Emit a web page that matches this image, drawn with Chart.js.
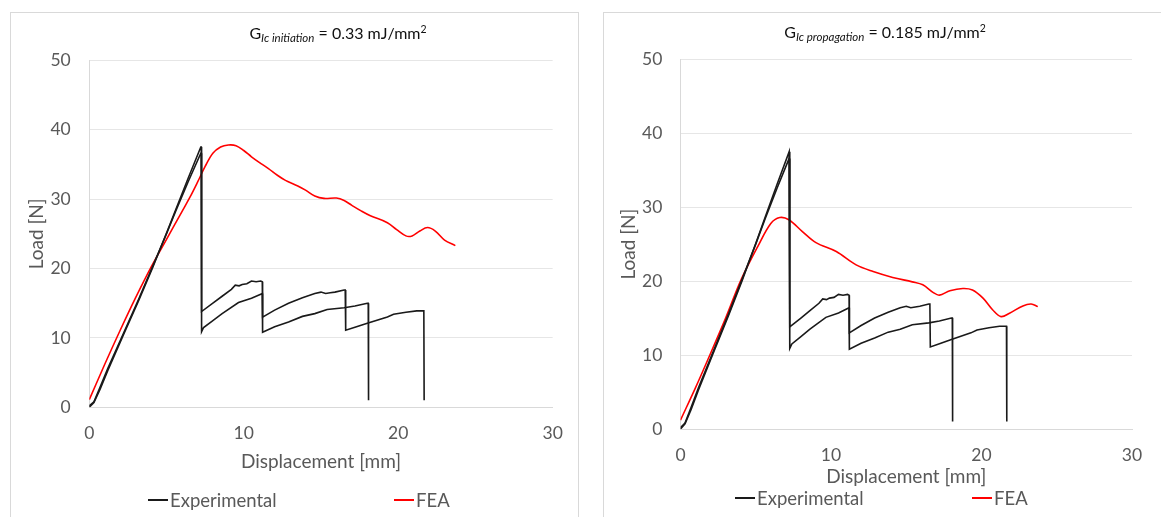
<!DOCTYPE html>
<html>
<head>
<meta charset="utf-8">
<script src="https://cdn.jsdelivr.net/npm/chart.js@4.4.0/dist/chart.umd.min.js"></script>
<style>
  body { margin:0; width:1161px; height:517px; overflow:hidden; background:#fff; font-family:Lato, sans-serif; color:#595959; position:relative; }
  .frame { position:absolute; top:12px; height:520px; border:1px solid #d9d9d9; box-sizing:border-box; }
  canvas { position:absolute; }
  .title { position:absolute; font-size:16px; color:#111; white-space:nowrap; transform:translate(-50%,-50%); }
  .title sub { font-size:11.5px; font-style:italic; vertical-align:-3px; }
  .title sup { font-size:10.5px; vertical-align:6px; }
  .leg { position:absolute; font-size:18.5px; display:flex; align-items:center; transform:translateY(-50%); white-space:nowrap; }
  .leg i { display:inline-block; width:20px; height:2px; margin-right:2px; }
</style>
</head>
<body>
<div class="frame" style="left:10px;width:569px;"></div>
<div class="frame" style="left:603px;width:570px;"></div>

<canvas id="left" width="568" height="505" style="left:10px;top:12px;"></canvas>
<canvas id="right" width="558" height="505" style="left:603px;top:12px;"></canvas>

<div class="title" style="left:338px;top:33px;">G<sub>Ic initiation</sub> = 0.33 mJ/mm<sup>2</sup></div>
<div class="title" style="left:885px;top:32px;">G<sub>Ic propagation</sub> = 0.185 mJ/mm<sup>2</sup></div>

<div class="leg" style="left:148px;top:500px;"><i style="background:#1a1a1a"></i>Experimental</div>
<div class="leg" style="left:394px;top:500px;"><i style="background:#ff0000"></i>FEA</div>
<div class="leg" style="left:735px;top:498px;"><i style="background:#1a1a1a"></i>Experimental</div>
<div class="leg" style="left:972px;top:498px;"><i style="background:#ff0000"></i>FEA</div>

<script>
// experimental specimen 1 (displacement mm, load N)
const expAx = [0, 0.3, 0.7, 1.2, 2.2, 3.2, 4.1, 5.0, 5.6, 6.4, 7.22, 7.25, 7.27, 8.0, 8.6, 9.2, 9.45, 9.7, 9.9, 10.2, 10.5, 10.8, 11.1, 11.2, 11.22, 12.0, 12.9, 13.8, 14.6, 15.0, 15.3, 15.6, 15.9, 16.5, 16.57, 16.6, 17.3, 18.0, 19.3, 19.7, 20.5, 21.2, 21.66, 21.68];
const expAy = [0, 0.7, 2.6, 5.3, 10.4, 15.4, 20.1, 25.1, 28.5, 33.0, 37.5, 37.5, 13.8, 15.0, 16.0, 17.0, 17.6, 17.5, 17.7, 17.8, 18.2, 18.1, 18.2, 18.1, 13.0, 14.0, 15.0, 15.8, 16.4, 16.6, 16.4, 16.5, 16.6, 16.9, 16.9, 11.1, 11.6, 12.1, 13.0, 13.4, 13.7, 13.9, 13.9, 1.0];

// experimental specimen 2
const expBx = [0, 0.3, 0.7, 1.2, 2.2, 3.2, 4.1, 5.0, 5.6, 6.4, 7.22, 7.25, 7.27, 7.4, 8.0, 8.6, 9.66, 10.5, 11.1, 11.2, 11.22, 12.0, 12.9, 13.8, 14.6, 15.4, 16.5, 17.2, 18.0, 18.06, 18.08];
const expBy = [0.2, 0.8, 2.9, 5.6, 10.6, 15.6, 20.3, 25.0, 28.3, 32.5, 36.6, 36.6, 10.9, 11.5, 12.5, 13.5, 15.1, 15.7, 16.3, 16.4, 10.8, 11.6, 12.3, 13.1, 13.5, 14.1, 14.35, 14.6, 15.0, 15.0, 1.0];

// FEA, G_Ic initiation = 0.33
const feaInitX = [0, 1, 2, 3, 4, 5, 6, 6.5, 7, 7.5, 8, 8.5, 9, 9.5, 10, 10.5, 11, 11.6, 12.2, 12.7, 13.5, 14, 14.6, 15.2, 16, 16.5, 17, 17.6, 18.2, 19.3, 19.9, 20.5, 20.9, 21.4, 21.9, 22.4, 23.0, 23.7];
const feaInitY = [1.1, 6.2, 11.1, 15.8, 20.2, 24.2, 28.2, 30.2, 32.4, 34.7, 36.6, 37.5, 37.8, 37.7, 37.0, 36.1, 35.3, 34.4, 33.4, 32.7, 31.9, 31.3, 30.45, 30.1, 30.15, 29.8, 29.1, 28.3, 27.6, 26.6, 25.6, 24.7, 24.7, 25.4, 25.9, 25.4, 24.1, 23.3];

// FEA, G_Ic propagation = 0.185
const feaPropX = [0, 1, 1.8, 3, 4.03, 5.14, 6.0, 6.6, 7.2, 8.1, 9.0, 10.35, 11.67, 12.8, 14.1, 15.4, 16.1, 16.8, 17.2, 17.9, 18.76, 19.4, 20.1, 20.75, 21.3, 21.86, 22.75, 23.3, 23.74];
const feaPropY = [1.2, 5.6, 9.3, 15.0, 20.2, 24.7, 27.8, 28.6, 28.3, 26.7, 25.2, 24.0, 22.2, 21.3, 20.5, 19.9, 19.5, 18.45, 18.1, 18.7, 19.0, 18.8, 17.7, 16.1, 15.2, 15.65, 16.65, 16.9, 16.55];

const xTicks = [0, 10, 20, 30];
const yTicks = [0, 10, 20, 30, 40, 50];

Chart.defaults.font.family = 'Lato';
Chart.defaults.color = '#595959';

function pts(xs, ys) {
  return xs.map((x, i) => ({x: x, y: ys[i]}));
}

function makeChart(id, feaX, feaY, box) {
  const tickFont = {family: 'Lato', size: 17.5};
  const titleFont = {family: 'Lato', size: 19};
  new Chart(document.getElementById(id), {
    type: 'scatter',
    data: {
      datasets: [
        {label: 'Experimental', data: pts(expAx, expAy), showLine: true, borderColor: '#1a1a1a', borderWidth: 1.6, pointRadius: 0, tension: 0},
        {label: 'Experimental B', data: pts(expBx, expBy), showLine: true, borderColor: '#1a1a1a', borderWidth: 1.6, pointRadius: 0, tension: 0},
        {label: 'FEA', data: pts(feaX, feaY), showLine: true, borderColor: '#ff0000', borderWidth: 1.6, pointRadius: 0, tension: 0.35}
      ]
    },
    options: {
      responsive: false,
      animation: false,
      layout: {padding: {left: 0, top: box.top, right: box.right, bottom: box.bottom}},
      plugins: {legend: {display: false}, tooltip: {enabled: false}},
      scales: {
        x: {
          type: 'linear', min: 0, max: 30,
          afterBuildTicks: s => { s.ticks = xTicks.map(v => ({value: v})); },
          ticks: {font: tickFont, color: '#595959', padding: box.xPad},
          grid: {display: false, drawTicks: false},
          border: {display: true, color: '#d9d9d9', width: 1},
          title: {display: true, text: 'Displacement [mm]', font: titleFont, color: '#595959', padding: {top: 0, bottom: 0}},
          afterFit: s => { s.height = box.xH; }
        },
        y: {
          type: 'linear', min: 0, max: 50,
          afterBuildTicks: s => { s.ticks = yTicks.map(v => ({value: v})); },
          ticks: {font: tickFont, color: '#595959', padding: box.yPad},
          grid: {color: '#e6e6e6', drawTicks: false},
          border: {display: true, color: '#d9d9d9', width: 1},
          title: {display: true, text: 'Load [N]', font: titleFont, color: '#595959', padding: {top: box.yTitlePad, bottom: 0}},
          afterFit: s => { s.width = box.yW; }
        }
      }
    }
  });
}

makeChart('left', feaInitX, feaInitY, {top: 48.3, right: 20.7, bottom: 43.6, xH: 66.1, xPad: 15.2, yW: 79.3, yPad: 18.6, yTitlePad: 15.6});
makeChart('right', feaPropX, feaPropY, {top: 47.3, right: 29, bottom: 28.6, xH: 59.4, xPad: 15.5, yW: 77.5, yPad: 18.2, yTitlePad: 14.1});
</script>
</body>
</html>
